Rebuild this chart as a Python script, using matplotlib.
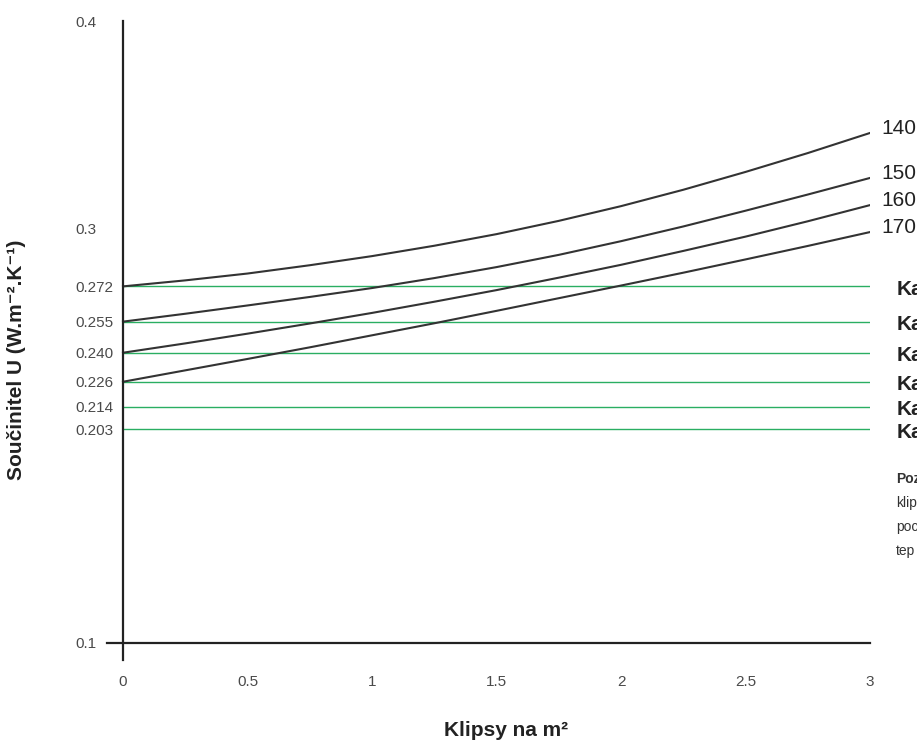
import matplotlib.pyplot as plt

plt.rcParams["font.family"] = ["Liberation Sans", "DejaVu Sans"]

# values (clips per m2 vs U value)
clips = [0, 0.25, 0.5, 0.75, 1.0, 1.25, 1.5, 1.75, 2.0, 2.25, 2.5, 2.75, 3.0]
u_140 = [0.2720, 0.2749, 0.2782, 0.2822, 0.2866, 0.2916, 0.2972, 0.3036, 0.3107, 0.3186, 0.3272, 0.3363, 0.3460]
u_150 = [0.2550, 0.2588, 0.2628, 0.2669, 0.2712, 0.2760, 0.2813, 0.2872, 0.2938, 0.3009, 0.3085, 0.3163, 0.3243]
u_160 = [0.2400, 0.2445, 0.2492, 0.2541, 0.2592, 0.2646, 0.2702, 0.2762, 0.2824, 0.2891, 0.2960, 0.3034, 0.3112]
u_170 = [0.2260, 0.2315, 0.2370, 0.2426, 0.2484, 0.2542, 0.2602, 0.2663, 0.2724, 0.2786, 0.2850, 0.2915, 0.2982]
curve_names = ["140", "150", "160", "170"]

class_limits = [0.272, 0.255, 0.240, 0.226, 0.214, 0.203]
class_labels = ["Ka", "Ka", "Ka", "Ka", "Ka", "Ka"]

y_ticks = [0.1, 0.203, 0.214, 0.226, 0.240, 0.255, 0.272, 0.3, 0.4]
y_tick_labels = ["0.1", "0.203", "0.214", "0.226", "0.240", "0.255", "0.272", "0.3", "0.4"]
x_ticks = [0, 0.5, 1, 1.5, 2, 2.5, 3]
x_tick_labels = ["0", "0.5", "1", "1.5", "2", "2.5", "3"]

note_lines = ["Poz", "klip", "poc", "tep"]

fig = plt.figure(figsize=(9.17, 7.45), dpi=100)
ax = fig.add_axes([107 / 917, 1 - 660 / 745, (870 - 107) / 917, (660 - 21) / 745])
ax.set_xlim(-16 / 249, 3)
ax.set_ylim(0.1 - 17 / 2073, 0.4)

for side in ["top", "right"]:
    ax.spines[side].set_visible(False)
ax.spines["left"].set_position(("data", 0))
ax.spines["bottom"].set_position(("data", 0.1))
for side in ["left", "bottom"]:
    ax.spines[side].set_color("#222222")
    ax.spines[side].set_linewidth(1.6)

# green class limits
ax.hlines(class_limits, 0, 3, color="#2aae62", lw=1)

# U-value curves
for vals, name in zip([u_140, u_150, u_160, u_170], curve_names):
    ax.plot(clips, vals, color="#333333", lw=1.5)
    ax.annotate(name, (clips[-1], vals[-1]), xytext=(8, 3), textcoords="offset points",
                va="center", ha="left", fontsize=15, color="#222222", annotation_clip=False)

for lim, lab in zip(class_limits, class_labels):
    ax.annotate(lab, (3, lim), xytext=(19.5, -2), textcoords="offset points",
                va="center", ha="left", fontsize=15, fontweight="bold", color="#222222",
                annotation_clip=False)

ax.set_yticks(y_ticks)
ax.set_yticklabels(y_tick_labels)
ax.set_xticks(x_ticks)
ax.set_xticklabels(x_tick_labels)
ax.tick_params(axis="y", length=0, pad=34.5, labelsize=11, labelcolor="#4a4a4a")
ax.tick_params(axis="x", length=0, pad=23, labelsize=11, labelcolor="#4a4a4a")
for t in ax.get_yticklabels():
    t.set_ha("left")

fig.text(17 / 917, 1 - 360 / 745, "Součinitel U (W.m⁻².K⁻¹)", rotation=90,
         ha="center", va="center", fontsize=15, fontweight="bold", color="#222222")
fig.text(506 / 917, 1 - 731 / 745, "Klipsy na m²", ha="center", va="center",
         fontsize=15, fontweight="bold", color="#222222")

for i, line in enumerate(note_lines):
    fig.text(896 / 917, 1 - (479 + i * 24) / 745, line, ha="left", va="center",
             fontsize=10, fontweight="bold" if i == 0 else "normal", color="#333333")

fig.savefig("out.png", dpi=100)
